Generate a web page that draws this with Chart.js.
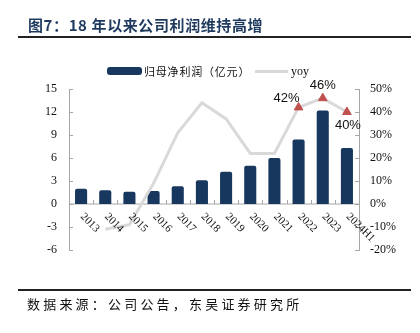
<!DOCTYPE html>
<html>
<head>
<meta charset="utf-8">
<script src="https://cdn.jsdelivr.net/npm/chart.js@4"></script>
<style>
  body { margin: 0; background: #fff; }
  #wrap { position: relative; width: 420px; height: 333px; overflow: hidden; }
  #chart { position: absolute; left: 0; top: 0; }
  .title { position: absolute; left: 28px; top: 15px; font: bold 15px "Noto Sans CJK SC"; color: #1f3a5f; letter-spacing: 0.6px; line-height: 20px; white-space: nowrap; }
  .rule { position: absolute; left: 18px; width: 393px; height: 2px; background: #222; }
  .source { position: absolute; left: 27px; top: 295px; font: 13px "Noto Sans CJK SC"; color: #111; letter-spacing: 3.2px; line-height: 18px; white-space: nowrap; }
  .lg { position: absolute; white-space: nowrap; }
</style>
</head>
<body>
<div id="wrap">
  <canvas id="chart" width="420" height="333"></canvas>
  <div class="title">图7：18 年以来公司利润维持高增</div>
  <div class="rule" style="top:36px"></div>
  <div class="lg" style="left:107px;top:67px;width:35px;height:8px;background:#17375e;border-radius:3px"></div>
  <div class="lg" style="left:144px;top:63px;font:11px 'Noto Sans CJK SC';line-height:16px;color:#111;letter-spacing:0.8px">归母净利润（亿元）</div>
  <div class="lg" style="left:255px;top:70px;width:33px;height:3px;background:#d9d9d9"></div>
  <div class="lg" style="left:291px;top:63px;font:12px 'Liberation Serif';line-height:16px;color:#111">yoy</div>
  <div class="rule" style="top:289px"></div>
  <div class="source">数据来源：公司公告，东吴证券研究所</div>
</div>
<script>
const categories = ['2013', '2014', '2015', '2016', '2017', '2018', '2019', '2020', '2021', '2022', '2023', '2024H1'];
const profit = [2.0, 1.8, 1.6, 1.7, 2.3, 3.1, 4.2, 5.0, 6.0, 8.4, 12.2, 7.3];
const yoy = [null, -11, -9, 9, 31, 44, 37, 22, 22, 42, 46, 40];
const yoyMarked = [false, false, false, false, false, false, false, false, false, true, true, true];
const leftTicks = [-6, -3, 0, 3, 6, 9, 12, 15];
const rightTicks = [-20, -10, 0, 10, 20, 30, 40, 50];

const navy = '#17375e';
const red = '#c0504d';
const axisGray = '#a6a6a6';

// axis ticks pointing inward, zero line, rotated year labels, yoy labels
const decorations = {
    id: 'decorations',
    beforeDatasetsDraw(chart) {
        const { ctx, chartArea, scales } = chart;
        const y0 = scales.y.getPixelForValue(0);
        ctx.save();
        ctx.strokeStyle = axisGray;
        ctx.lineWidth = 1;
        ctx.beginPath();
        ctx.moveTo(chartArea.left, y0);
        ctx.lineTo(chartArea.right, y0);
        const step = scales.x.getPixelForValue(1) - scales.x.getPixelForValue(0);
        for (let i = 0; i <= categories.length; i++) {
            const bx = Math.round(scales.x.getPixelForValue(0) - step / 2 + i * step) + 0.5;
            ctx.moveTo(bx, y0);
            ctx.lineTo(bx, y0 - 4);
        }
        leftTicks.forEach(v => {
            const ty = Math.round(scales.y.getPixelForValue(v)) + 0.5;
            ctx.moveTo(chartArea.left, ty);
            ctx.lineTo(chartArea.left + 4, ty);
        });
        rightTicks.forEach(v => {
            const ty = Math.round(scales.y2.getPixelForValue(v)) + 0.5;
            ctx.moveTo(chartArea.right, ty);
            ctx.lineTo(chartArea.right - 4, ty);
        });
        ctx.stroke();
        ctx.restore();
    },
    afterDatasetsDraw(chart) {
        const { ctx, scales } = chart;
        const y0 = scales.y.getPixelForValue(0);
        ctx.save();
        ctx.fillStyle = '#111';
        ctx.font = '11px "Liberation Serif"';
        ctx.textAlign = 'left';
        ctx.textBaseline = 'middle';
        categories.forEach((c, i) => {
            const x = scales.x.getPixelForValue(i);
            ctx.save();
            ctx.translate(x + 1, y0 + 11);
            ctx.rotate(Math.PI / 4);
            ctx.fillText(c, 0, 0);
            ctx.restore();
        });
        const meta = chart.getDatasetMeta(0);
        ctx.font = '13px "Liberation Sans"';
        ctx.textAlign = 'center';
        yoy.forEach((v, i) => {
            if (!yoyMarked[i]) return;
            const pt = meta.data[i];
            let dx = 0, dy = -13;
            if (i === categories.length - 1) { dx = 1; dy = 13; }
            if (i === categories.length - 3) { dx = -12; dy = -9; }
            ctx.fillText(v + '%', pt.x + dx, pt.y + dy);
        });
        ctx.restore();
    }
};

new Chart(document.getElementById('chart').getContext('2d'), {
    data: {
        labels: categories,
        datasets: [{
            type: 'line',
            label: 'yoy',
            data: yoy,
            yAxisID: 'y2',
            borderColor: '#d9d9d9',
            borderWidth: 3,
            tension: 0,
            spanGaps: false,
            pointStyle: 'triangle',
            pointRadius: yoyMarked.map(m => m ? 5 : 0),
            pointBackgroundColor: red,
            pointBorderColor: red,
            pointBorderWidth: 1,
            order: 0
        }, {
            type: 'bar',
            label: '归母净利润（亿元）',
            data: profit,
            yAxisID: 'y',
            backgroundColor: navy,
            borderRadius: 2,
            categoryPercentage: 1,
            barPercentage: 0.5,
            order: 1
        }]
    },
    options: {
        responsive: false,
        devicePixelRatio: 1,
        animation: false,
        layout: { padding: { top: 89, bottom: 83, left: 0, right: 0 } },
        plugins: {
            legend: { display: false },
            tooltip: { enabled: false }
        },
        scales: {
            x: { display: false, offset: true },
            y: {
                position: 'left',
                min: -6, max: 15,
                afterFit: s => { s.width = 69; },
                grid: { display: false, drawTicks: false },
                border: { display: true, color: axisGray, width: 1 },
                ticks: { stepSize: 3, padding: 12, color: '#111', font: { family: 'Liberation Serif', size: 12 } }
            },
            y2: {
                position: 'right',
                min: -20, max: 50,
                afterFit: s => { s.width = 61; },
                grid: { display: false, drawTicks: false },
                border: { display: true, color: axisGray, width: 1 },
                ticks: { stepSize: 10, padding: 11, color: '#111', callback: v => v + '%', font: { family: 'Liberation Serif', size: 12 } }
            }
        }
    },
    plugins: [decorations]
});
</script>
</body>
</html>
